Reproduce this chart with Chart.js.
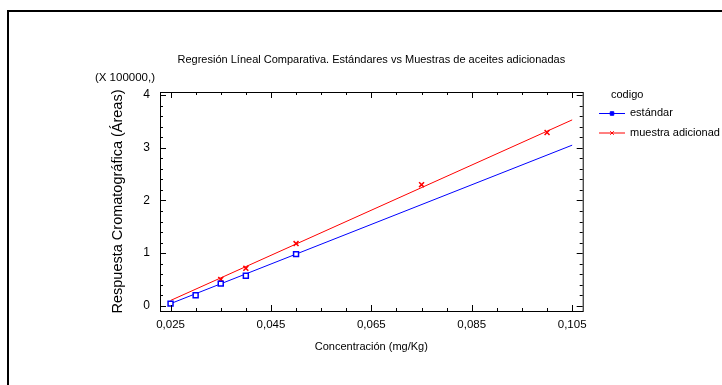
<!DOCTYPE html>
<html>
<head>
<meta charset="utf-8">
<script src="https://cdn.jsdelivr.net/npm/chart.js@4/dist/chart.umd.min.js"></script>
<style>
  body { margin: 0; background: #fff; }
  canvas { display: block; }
</style>
</head>
<body>
<canvas id="regresionChart" width="722" height="385"></canvas>
<script>
// Estándares
const stdConc = [0.025, 0.03, 0.035, 0.04, 0.05];
const stdArea = [0.04, 0.2, 0.42, 0.57, 0.98];
// Muestras adicionadas
const addConc = [0.035, 0.04, 0.05, 0.075, 0.1];
const addArea = [0.5, 0.71, 1.18, 2.3, 3.29];
// Rectas ajustadas (extremos)
const fitConc = [0.025, 0.105];
const stdFit = [0.04, 3.05];
const addFit = [0.1, 3.53];

const xTicks = [0.025, 0.045, 0.065, 0.085, 0.105];
const yTicks = [0, 1, 2, 3, 4];
const xMinorStep = 0.005;
const yMinorStep = 0.2;

const TITLE = 'Regresión Líneal Comparativa. Estándares vs Muestras de aceites adicionadas';
const FONT = 'Liberation Sans, Arial, sans-serif';

function pts(xs, ys) {
  return xs.map((x, i) => ({ x: x, y: ys[i] }));
}

// marco, título, caja de ejes, marcas internas y leyenda
const decor = {
  id: 'decor',
  beforeDraw(chart) {
    const ctx = chart.ctx;
    ctx.save();
    ctx.strokeStyle = '#000';
    ctx.lineWidth = 2;
    ctx.strokeRect(8, 11, 740, 400);
    ctx.restore();
  },
  afterDraw(chart) {
    const ctx = chart.ctx;
    const a = chart.chartArea;
    const xs = chart.scales.x, ys = chart.scales.y;
    ctx.save();
    ctx.strokeStyle = '#000';
    ctx.lineWidth = 1;
    ctx.strokeRect(a.left + 0.5, a.top + 0.5, a.right - a.left, a.bottom - a.top);

    ctx.beginPath();
    for (let v = xTicks[0]; v <= xTicks[xTicks.length - 1] + 1e-9; v += xMinorStep) {
      const major = xTicks.some(t => Math.abs(t - v) < 1e-9);
      const len = major ? 6 : 3;
      const px = Math.round(xs.getPixelForValue(v)) + 0.5;
      ctx.moveTo(px, a.bottom); ctx.lineTo(px, a.bottom - len);
      ctx.moveTo(px, a.top); ctx.lineTo(px, a.top + len);
    }
    for (let v = yTicks[0]; v <= yTicks[yTicks.length - 1] + 1e-9; v += yMinorStep) {
      const major = yTicks.some(t => Math.abs(t - v) < 1e-9);
      const len = major ? 6 : 3;
      const py = Math.round(ys.getPixelForValue(v)) + 0.5;
      ctx.moveTo(a.left, py); ctx.lineTo(a.left + len, py);
      ctx.moveTo(a.right, py); ctx.lineTo(a.right - len, py);
    }
    ctx.stroke();

    ctx.fillStyle = '#000';
    ctx.textBaseline = 'middle';

    // título centrado sobre el área de trazado
    ctx.font = '11px ' + FONT;
    ctx.textAlign = 'center';
    ctx.fillText(TITLE, (a.left + a.right) / 2, 60);

    // factor de escala del eje Y
    ctx.font = '11.5px ' + FONT;
    ctx.textAlign = 'right';
    ctx.fillText('(X 100000,)', 155, 78);

    // leyenda
    ctx.font = '11px ' + FONT;
    ctx.textAlign = 'left';
    ctx.fillText('codigo', 611, 95);
    const entries = [chart.data.datasets[0], chart.data.datasets[1]];
    entries.forEach((ds, i) => {
      const y = 113 + i * 19.5;
      ctx.strokeStyle = ds.borderColor;
      ctx.lineWidth = 1;
      ctx.beginPath();
      ctx.moveTo(599, y + 0.5); ctx.lineTo(625, y + 0.5);
      ctx.stroke();
      ctx.fillStyle = ds.borderColor;
      Chart.helpers.drawPoint(ctx, {
        pointStyle: ds.pointStyle, radius: 2.5, borderWidth: 1.5
      }, 612, y + 0.5);
      ctx.fillStyle = '#000';
      ctx.fillText(ds.label, 630, y);
    });
    ctx.restore();
  }
};

new Chart(document.getElementById('regresionChart'), {
  type: 'scatter',
  data: {
    datasets: [
      {
        label: 'estándar',
        data: pts(stdConc, stdArea),
        pointStyle: 'rect',
        pointRadius: 3.5,
        borderColor: '#0000ff',
        backgroundColor: '#ffffff',
        pointBorderWidth: 1.5
      },
      {
        label: 'muestra adicionad',
        data: pts(addConc, addArea),
        pointStyle: 'crossRot',
        pointRadius: 3.5,
        borderColor: '#ff0000',
        backgroundColor: '#ff0000',
        pointBorderWidth: 1.5
      },
      {
        label: 'ajuste estándar',
        data: pts(fitConc, stdFit),
        showLine: true,
        pointRadius: 0,
        borderColor: '#0000ff',
        borderWidth: 1
      },
      {
        label: 'ajuste adicionada',
        data: pts(fitConc, addFit),
        showLine: true,
        pointRadius: 0,
        borderColor: '#ff0000',
        borderWidth: 1
      }
    ]
  },
  options: {
    responsive: false,
    animation: false,
    layout: { padding: { left: 109, right: 139.3, top: 92, bottom: 31.4 } },
    plugins: {
      legend: { display: false },
      tooltip: { enabled: false },
      title: { display: false }
    },
    scales: {
      x: {
        type: 'linear',
        min: 0.0229,
        max: 0.1071,
        grid: { display: false, drawTicks: false },
        border: { display: false },
        afterBuildTicks: s => { s.ticks = xTicks.map(v => ({ value: v })); },
        afterFit: s => { s.height = 42.6; },
        ticks: {
          color: '#000',
          padding: 7,
          font: { family: FONT, size: 11.5 },
          callback: v => v.toFixed(3).replace('.', ',')
        },
        title: {
          display: true,
          text: 'Concentración (mg/Kg)',
          color: '#000',
          padding: 0,
          font: { family: FONT, size: 11 }
        }
      },
      y: {
        type: 'linear',
        min: -0.1,
        max: 4.06,
        grid: { display: false, drawTicks: false },
        border: { display: false },
        afterBuildTicks: s => { s.ticks = yTicks.map(v => ({ value: v })); },
        afterFit: s => { s.width = 51; },
        ticks: {
          color: '#000',
          padding: 10,
          font: { family: FONT, size: 12 },
          callback: v => String(v)
        },
        title: {
          display: true,
          text: 'Respuesta Cromatográfica (Áreas)',
          color: '#000',
          padding: 0,
          font: { family: FONT, size: 14.5 }
        }
      }
    }
  },
  plugins: [decor]
});
</script>
</body>
</html>
